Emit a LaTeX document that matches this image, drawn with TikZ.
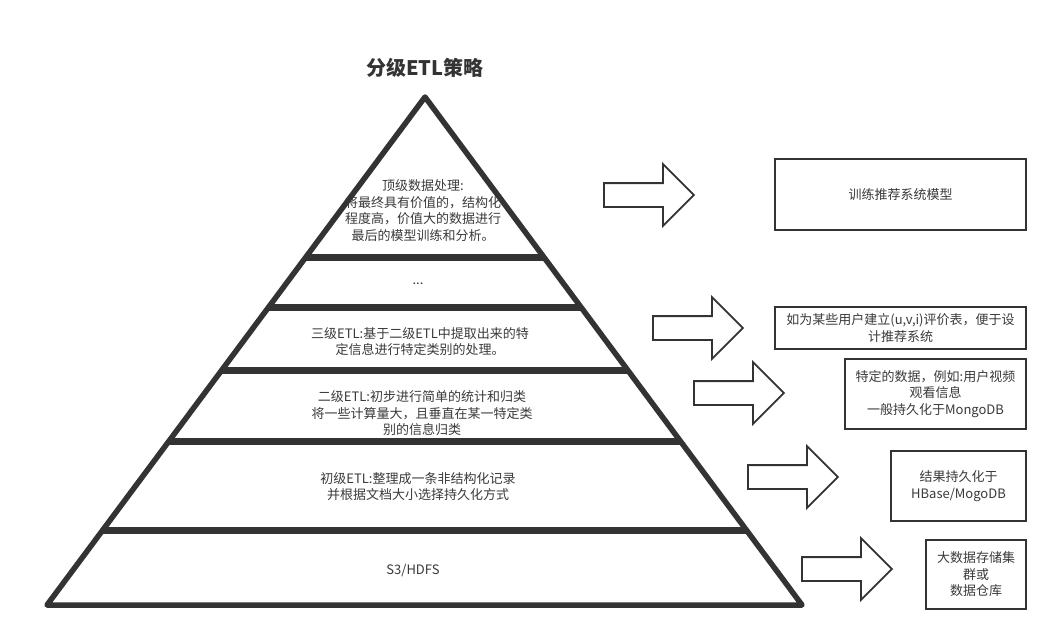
\documentclass[tikz,border=0pt]{standalone}
\usepackage{fontspec}
\newfontfamily\cjk{Noto Sans CJK SC}
\usetikzlibrary{calc,shapes.arrows}
\definecolor{lineg}{HTML}{333333}
\definecolor{textg}{HTML}{3A3A3A}
\begin{document}
\begin{tikzpicture}[x=1pt,y=-1pt,
  txt/.style={align=center,text=textg,inner sep=0pt,font=\cjk\fontsize{13}{16.5}\selectfont},
  pyr/.style={draw=lineg,line width=5.5pt,line join=round},
  bar/.style={draw=lineg,line width=7pt},
  blockarrow/.style={single arrow,draw=lineg,line width=1.8pt,fill=white,minimum height=90pt,minimum width=60pt,single arrow head extend=19pt,single arrow tip angle=90,inner sep=0pt,text height=11pt,text depth=11pt,anchor=tail},
  box/.style={draw=lineg,line width=2pt,align=center,text=textg,inner sep=0pt,font=\cjk\fontsize{13}{16.5}\selectfont}
]
\useasboundingbox[fill=white] (0,0) rectangle (1058,642);

% title
\node[text=lineg,font=\cjk\bfseries\fontsize{20}{24}\selectfont] (title) at (425,68) {分级ETL策略};

% texts inside pyramid (drawn before lines)
\node[txt] (t1) at (423,210.5) {顶级数据处理:\\将最终具有价值的，结构化\\程度高，价值大的数据进行\\最后的模型训练和分析。};
\node[txt] (t2) at (418,284) {...};
\node[txt] (t3) at (420,341.5) {三级ETL:基于二级ETL中提取出来的特\\定信息进行特定类别的处理。};
\node[txt] (t4) at (422,413.5) {二级ETL:初步进行简单的统计和归类\\将一些计算量大，且垂直在某一特定类\\别的信息归类};
\node[txt] (t5) at (418,486.5) {初级ETL:整理成一条非结构化记录\\并根据文档大小选择持久化方式};
\node[txt] (t6) at (413,570) {S3/HDFS};

% pyramid
\coordinate (A) at (425,97);
\coordinate (BL) at (47,605);
\coordinate (BR) at (802,605);
\draw[pyr] (A) -- (BL) -- (BR) -- cycle;
\foreach \t in {0.3169,0.4134,0.5374,0.6791,0.8524}{
  \draw[bar] ($(A)!\t!(BL)$) -- ($(A)!\t!(BR)$);
}

% block arrows
\node[blockarrow] (a1) at (603,195) {};
\node[blockarrow] (a2) at (652,328) {};
\node[blockarrow] (a3) at (693,393) {};
\node[blockarrow] (a4) at (747,477) {};
\node[blockarrow] (a5) at (801,569) {};

% boxes
\node[box,minimum width=251pt,minimum height=71pt] (b1) at (900.5,194.5) {训练推荐系统模型};
\node[box,minimum width=251pt,minimum height=42pt] (b2) at (900.5,328) {如为某些用户建立(u,v,i)评价表，便于设\\计推荐系统};
\node[box,minimum width=181pt,minimum height=70pt] (b3) at (935.5,394) {特定的数据，例如:用户视频\\观看信息\\一般持久化于MongoDB};
\node[box,minimum width=135pt,minimum height=70pt] (b4) at (958.5,486) {结果持久化于\\HBase/MogoDB};
\node[box,minimum width=100pt,minimum height=69pt] (b5) at (976,574.5) {大数据存储集\\群或\\数据仓库};
\end{tikzpicture}
\end{document}
